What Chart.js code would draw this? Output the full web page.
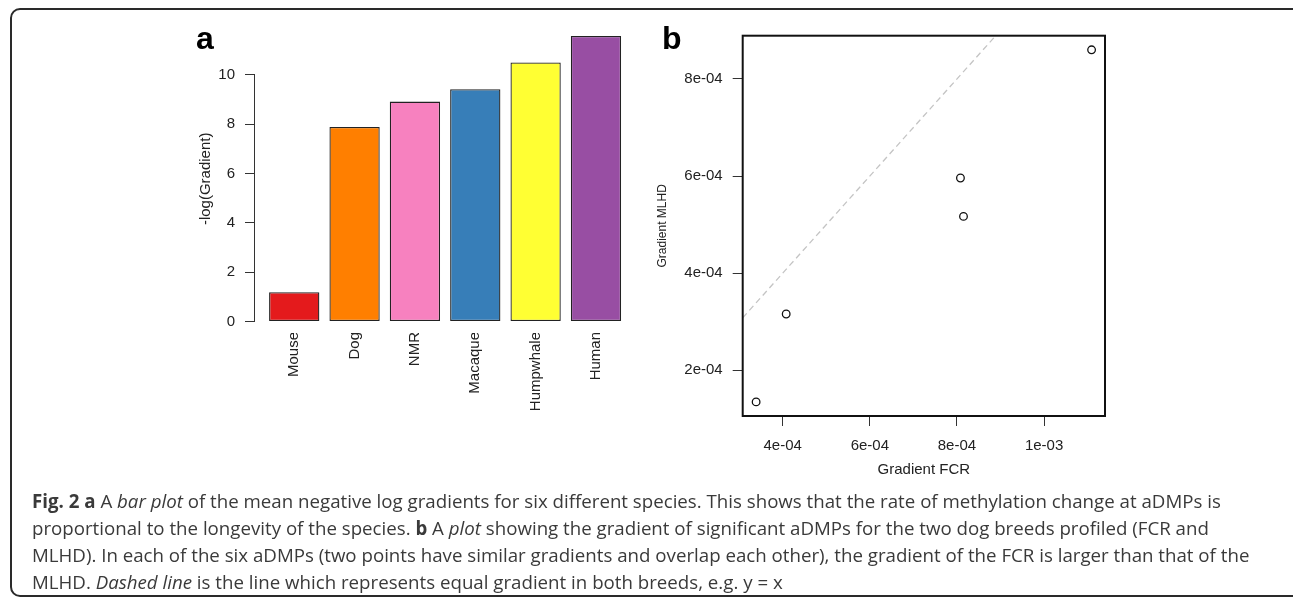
<!DOCTYPE html>
<html>
<head>
<meta charset="utf-8">
<script src="https://cdn.jsdelivr.net/npm/chart.js"></script>
<style>
  body { margin: 0; background: #fff; width: 1293px; height: 599px; overflow: hidden; position: relative; }
  .frame { position: absolute; left: 10px; top: 8px; width: 1300px; height: 585px; border: 2px solid #2a2a2a; border-radius: 10px; }
  canvas { position: absolute; }
  .panel { position: absolute; font: bold 32px "Liberation Sans", Arial, sans-serif; color: #000; line-height: 32px; }
  .caption { position: absolute; left: 32px; top: 487px; font: 18.7px "Open Sans", sans-serif; color: #3a3a3a; line-height: 27px; white-space: nowrap; }
</style>
</head>
<body>
<div class="frame"></div>
<canvas id="chartA" width="490" height="460" style="left:160px;top:0"></canvas>
<canvas id="chartB" width="500" height="490" style="left:640px;top:0"></canvas>
<div class="panel" style="left:196px;top:22px">a</div>
<div class="panel" style="left:662px;top:22px">b</div>
<div class="caption">
<b>Fig. 2 a</b> A <i>bar plot</i> of the mean negative log gradients for six different species. This shows that the rate of methylation change at aDMPs is<br>
proportional to the longevity of the species. <b>b</b> A <i>plot</i> showing the gradient of significant aDMPs for the two dog breeds profiled (FCR and<br>
MLHD). In each of the six aDMPs (two points have similar gradients and overlap each other), the gradient of the FCR is larger than that of the<br>
MLHD. <i>Dashed line</i> is the line which represents equal gradient in both breeds, e.g. y = x
</div>
<script>
// panel a: mean negative log gradient per species
const species = ['Mouse', 'Dog', 'NMR', 'Macaque', 'Humpwhale', 'Human'];
const negLogGradient = [1.19, 7.89, 8.92, 9.42, 10.51, 11.58];
const barColors = ['#E41A1C', '#FF7F00', '#F781BF', '#377EB8', '#FFFF33', '#984EA3'];
const yTicksA = [0, 2, 4, 6, 8, 10];

// panel b: gradient FCR vs gradient MLHD
const gradientFCR = [3.39e-4, 4.08e-4, 8.08e-4, 8.15e-4, 1.109e-3];
const gradientMLHD = [1.35e-4, 3.16e-4, 5.96e-4, 5.17e-4, 8.60e-4];
const xTicksB = [4e-4, 6e-4, 8e-4, 1e-3];
const xTickLabelsB = ['4e-04', '6e-04', '8e-04', '1e-03'];
const yTicksB = [2e-4, 4e-4, 6e-4, 8e-4];
const yTickLabelsB = ['2e-04', '4e-04', '6e-04', '8e-04'];

Chart.defaults.font.family = '"Liberation Sans", Arial, sans-serif';
Chart.defaults.color = '#222';
Chart.defaults.animation = false;

// R-like axis range: data range plus 4% each side
function rRange(lo, hi) {
  const d = (hi - lo) * 0.04;
  return [lo - d, hi + d];
}

// barplot layout as in R: width 1, space 0.2
const space = 0.2;
const barX = species.map((s, i) => space + 0.5 + i * (1 + space));
const xRangeA = rRange(space, species.length * (1 + space));
const yRangeA = rRange(0, Math.max(...negLogGradient));

// y axis line only from first to last tick, like R's axis()
const axisLineA = {
  id: 'axisLineA',
  afterDraw(chart) {
    const y = chart.scales.y;
    const ctx = chart.ctx;
    ctx.save();
    ctx.strokeStyle = '#333';
    ctx.lineWidth = 1;
    ctx.beginPath();
    ctx.moveTo(y.right - 0.5, y.getPixelForValue(yTicksA[0]));
    ctx.lineTo(y.right - 0.5, y.getPixelForValue(yTicksA[yTicksA.length - 1]));
    ctx.stroke();
    ctx.restore();
  }
};

new Chart(document.getElementById('chartA'), {
  type: 'bar',
  data: {
    datasets: [{
      data: species.map((s, i) => ({ x: barX[i], y: negLogGradient[i] })),
      backgroundColor: barColors,
      borderColor: '#222',
      borderWidth: 1.3,
      borderSkipped: false,
      categoryPercentage: 1,
      barPercentage: 1 / (1 + space)
    }]
  },
  options: {
    responsive: false,
    layout: { padding: { top: 24.6, right: 14.8, left: 0, bottom: 0 } },
    plugins: { legend: { display: false }, tooltip: { enabled: false } },
    scales: {
      x: {
        type: 'linear',
        offset: false,
        min: xRangeA[0],
        max: xRangeA[1],
        afterBuildTicks: s => { s.ticks = barX.map(v => ({ value: v })); },
        afterFit: s => { s.height = 127; },
        border: { display: false },
        grid: { display: false },
        ticks: {
          autoSkip: false,
          minRotation: 90,
          maxRotation: 90,
          padding: -9,
          font: { size: 15 },
          callback: (v, i) => species[i]
        }
      },
      y: {
        min: yRangeA[0],
        max: yRangeA[1],
        afterBuildTicks: s => { s.ticks = yTicksA.map(v => ({ value: v })); },
        afterFit: s => { s.width = 95; },
        border: { display: false },
        grid: { drawOnChartArea: false, tickLength: 10, color: '#333' },
        ticks: { padding: 10, font: { size: 15 } },
        title: { display: true, text: '-log(Gradient)', font: { size: 15 }, padding: { top: 37, bottom: 0 } }
      }
    }
  },
  plugins: [axisLineA]
});

// panel b
const xRangeB = rRange(Math.min(...gradientFCR), Math.max(...gradientFCR));
const yRangeB = rRange(Math.min(...gradientMLHD), Math.max(...gradientMLHD));

const boxB = {
  id: 'boxB',
  afterDraw(chart) {
    const a = chart.chartArea;
    const ctx = chart.ctx;
    ctx.save();
    ctx.strokeStyle = '#111';
    ctx.lineWidth = 2;
    ctx.strokeRect(a.left, a.top, a.right - a.left, a.bottom - a.top);
    ctx.restore();
  }
};

new Chart(document.getElementById('chartB'), {
  type: 'scatter',
  data: {
    datasets: [{
      type: 'line',
      data: [{ x: xRangeB[0], y: xRangeB[0] }, { x: xRangeB[1], y: xRangeB[1] }],
      borderColor: '#c4c4c4',
      borderWidth: 1.3,
      borderDash: [6, 4],
      pointRadius: 0,
      fill: false
    }, {
      data: gradientFCR.map((v, i) => ({ x: v, y: gradientMLHD[i] })),
      pointRadius: 3.8,
      pointBorderWidth: 1.3,
      pointBorderColor: '#111',
      pointBackgroundColor: 'rgba(0,0,0,0)'
    }]
  },
  options: {
    responsive: false,
    layout: { padding: { top: 35.7, right: 35, left: 0, bottom: 0 } },
    plugins: { legend: { display: false }, tooltip: { enabled: false } },
    scales: {
      x: {
        type: 'linear',
        min: xRangeB[0],
        max: xRangeB[1],
        afterBuildTicks: s => { s.ticks = xTicksB.map(v => ({ value: v })); },
        afterFit: s => { s.height = 74; },
        border: { display: false },
        grid: { drawOnChartArea: false, tickLength: 10, color: '#333' },
        ticks: { padding: 11, maxRotation: 0, font: { size: 15 }, callback: (v, i) => xTickLabelsB[i] },
        title: { display: true, text: 'Gradient FCR', font: { size: 15 }, padding: { top: 0, bottom: 11 } }
      },
      y: {
        min: yRangeB[0],
        max: yRangeB[1],
        afterBuildTicks: s => { s.ticks = yTicksB.map(v => ({ value: v })); },
        afterFit: s => { s.width = 102.7; },
        border: { display: false },
        grid: { drawOnChartArea: false, tickLength: 10, color: '#333' },
        ticks: { padding: 10, font: { size: 15 }, callback: (v, i) => yTickLabelsB[i] },
        title: { display: true, text: 'Gradient MLHD', font: { size: 12 }, padding: { top: 15.5, bottom: 0 } }
      }
    }
  },
  plugins: [boxB]
});
</script>
</body>
</html>
